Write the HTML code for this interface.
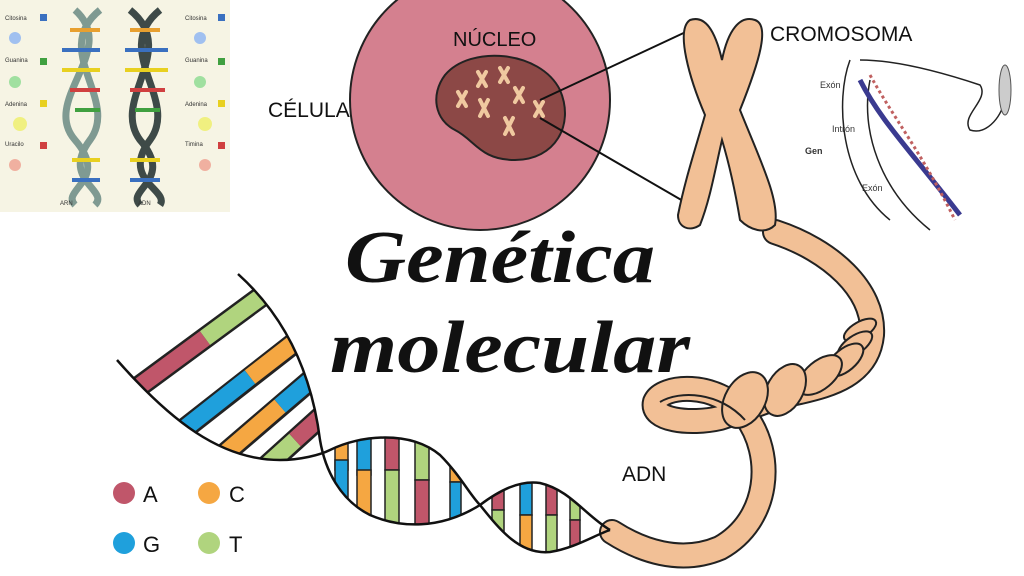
<!DOCTYPE html>
<html><head><meta charset="utf-8"><style>
html,body{margin:0;padding:0;background:#fff;width:1024px;height:576px;overflow:hidden}
svg{display:block}
text{font-family:"Liberation Sans",sans-serif}
</style></head><body>
<svg width="1024" height="576" viewBox="0 0 1024 576" xmlns="http://www.w3.org/2000/svg">
<defs>
<clipPath id="l1"><path d="M118,362 L238,274 C300,330 315,400 320,440 C322,446 326,449 330,450 C320,455 300,460 280,460 C220,460 170,420 118,362 Z"/></clipPath>
<clipPath id="l2"><path d="M330,450 C360,435 410,430 440,455 C460,475 470,495 480,505 C440,530 400,528 370,515 C340,500 325,470 330,450 Z"/></clipPath>
<clipPath id="l3"><path d="M480,505 C500,490 520,480 540,483 C570,490 585,515 610,530 C595,535 575,548 550,552 C520,555 500,530 480,505 Z"/></clipPath>
</defs>
<!-- top-left panel -->
<rect x="0" y="0" width="230" height="212" fill="#f6f4e4"/>
<g stroke-width="7" fill="none">
<path d="M75 10 C120 50 40 100 75 140 C110 180 60 190 75 205" stroke="#7f9a92"/>
<path d="M100 10 C50 50 120 100 90 140 C60 180 110 190 95 205" stroke="#7f9a92"/>
<path d="M130 10 C180 50 110 100 140 140 C175 180 125 190 140 205" stroke="#3e4a48"/>
<path d="M160 10 C110 50 180 100 150 140 C120 180 170 190 160 205" stroke="#3e4a48"/>
</g>
<g stroke-width="4">
<line x1="70" y1="30" x2="100" y2="30" stroke="#e8a030"/><line x1="62" y1="50" x2="100" y2="50" stroke="#3a70c0"/>
<line x1="62" y1="70" x2="100" y2="70" stroke="#e8d020"/><line x1="70" y1="90" x2="100" y2="90" stroke="#d04040"/>
<line x1="75" y1="110" x2="100" y2="110" stroke="#40a040"/><line x1="72" y1="160" x2="100" y2="160" stroke="#e8d020"/>
<line x1="72" y1="180" x2="100" y2="180" stroke="#3a70c0"/>
<line x1="130" y1="30" x2="160" y2="30" stroke="#e8a030"/><line x1="125" y1="50" x2="168" y2="50" stroke="#3a70c0"/>
<line x1="125" y1="70" x2="168" y2="70" stroke="#e8d020"/><line x1="130" y1="90" x2="165" y2="90" stroke="#d04040"/>
<line x1="135" y1="110" x2="160" y2="110" stroke="#40a040"/><line x1="130" y1="160" x2="160" y2="160" stroke="#e8d020"/>
<line x1="130" y1="180" x2="160" y2="180" stroke="#3a70c0"/>
</g>
<g font-size="6" fill="#333"><text x="5" y="20">Citosina</text><text x="5" y="62">Guanina</text><text x="5" y="106">Adenina</text><text x="5" y="146">Uracilo</text>
<text x="185" y="20">Citosina</text><text x="185" y="62">Guanina</text><text x="185" y="106">Adenina</text><text x="185" y="146">Timina</text>
<text x="60" y="205">ARN</text><text x="138" y="205">ADN</text></g>
<g><rect x="40" y="14" width="7" height="7" fill="#3a70c0"/><rect x="40" y="58" width="7" height="7" fill="#40a040"/><rect x="40" y="100" width="7" height="7" fill="#e8d020"/><rect x="40" y="142" width="7" height="7" fill="#d04040"/>
<rect x="218" y="14" width="7" height="7" fill="#3a70c0"/><rect x="218" y="58" width="7" height="7" fill="#40a040"/><rect x="218" y="100" width="7" height="7" fill="#e8d020"/><rect x="218" y="142" width="7" height="7" fill="#d04040"/>
<circle cx="15" cy="38" r="6" fill="#a0c0f0"/><circle cx="15" cy="82" r="6" fill="#a0e0a0"/><circle cx="20" cy="124" r="7" fill="#f0f080"/><circle cx="15" cy="165" r="6" fill="#f0b0a0"/>
<circle cx="200" cy="38" r="6" fill="#a0c0f0"/><circle cx="200" cy="82" r="6" fill="#a0e0a0"/><circle cx="205" cy="124" r="7" fill="#f0f080"/><circle cx="205" cy="165" r="6" fill="#f0b0a0"/></g>

<!-- cell -->
<circle cx="480" cy="100" r="130" fill="#d4808f" stroke="#222" stroke-width="2"/>
<path d="M445 75 C470 45 540 50 560 90 C575 125 555 160 515 160 C480 160 475 140 455 130 C435 120 430 95 445 75 Z" fill="#8c4846" stroke="#222" stroke-width="2"/>
<g stroke="#f0c9a0" stroke-width="4" stroke-linecap="round">
<path d="M478 72 l8 14 M486 72 l-8 14"/><path d="M500 68 l8 14 M508 68 l-8 14"/><path d="M515 88 l8 14 M523 88 l-8 14"/>
<path d="M458 92 l8 14 M466 92 l-8 14"/><path d="M480 100 l8 16 M488 100 l-8 16"/><path d="M505 118 l8 16 M513 118 l-8 16"/><path d="M535 102 l8 14 M543 102 l-8 14"/>
</g>
<line x1="540" y1="100" x2="690" y2="30" stroke="#111" stroke-width="2"/>
<line x1="540" y1="118" x2="690" y2="205" stroke="#111" stroke-width="2"/>
<text x="453" y="46" font-size="20" fill="#111">NÚCLEO</text>
<text x="268" y="117" font-size="21" fill="#111">CÉLULA</text>
<text x="770" y="41" font-size="21" fill="#111">CROMOSOMA</text>
<text x="622" y="481" font-size="21" fill="#111">ADN</text>

<!-- coil -->
<g fill="none" stroke-linecap="round" stroke-linejoin="round">
<path d="M775,232 C830,250 875,290 872,335 C868,375 830,385 800,392 C770,398 745,410 720,418 C690,425 650,420 655,402 C662,385 715,380 745,415 C775,455 770,520 720,548 C680,565 640,550 612,532" stroke="#222" stroke-width="26"/>
<path d="M775,232 C830,250 875,290 872,335 C868,375 830,385 800,392 C770,398 745,410 720,418 C690,425 650,420 655,402 C662,385 715,380 745,415 C775,455 770,520 720,548 C680,565 640,550 612,532" stroke="#f2c096" stroke-width="22"/>
</g>
<g fill="#f2c096" stroke="#222" stroke-width="2">
<ellipse cx="860" cy="330" rx="18" ry="8" transform="rotate(-30 860 330)"/>
<ellipse cx="855" cy="345" rx="20" ry="9" transform="rotate(-35 855 345)"/>
<ellipse cx="845" cy="360" rx="22" ry="11" transform="rotate(-40 845 360)"/>
<ellipse cx="820" cy="375" rx="26" ry="14" transform="rotate(-40 820 375)"/>
<ellipse cx="785" cy="390" rx="28" ry="18" transform="rotate(-60 785 390)"/>
<ellipse cx="745" cy="400" rx="30" ry="20" transform="rotate(-60 745 400)"/>
</g>
<path d="M660,402 C680,390 720,392 745,420" fill="none" stroke="#222" stroke-width="2"/>
<!-- chromosome -->
<path d="M690 20 C705 15 715 30 722 60 C728 30 740 15 755 20 C770 25 760 60 740 110 C760 160 780 200 775 225 C765 235 750 230 740 220 C735 190 728 160 722 140 C715 170 710 200 700 225 C690 232 678 228 678 215 C685 180 695 150 705 115 C690 80 675 30 690 20 Z" fill="#f2c096" stroke="#222" stroke-width="2"/>

<!-- gene diagram -->
<g fill="none" stroke="#222" stroke-width="1.5">
<path d="M860 60 C900 60 950 75 980 85 C990 100 960 115 970 130 C985 135 1000 120 1005 100"/>
<path d="M850 60 C835 100 840 180 890 220"/><path d="M870 80 C860 130 880 190 930 230"/>
</g>
<path d="M860 80 C880 120 910 150 960 215" stroke="#3a3a90" stroke-width="5" fill="none"/>
<path d="M870 75 C895 120 920 150 955 220" stroke="#c06060" stroke-width="3" fill="none" stroke-dasharray="3 3"/>
<ellipse cx="1005" cy="90" rx="6" ry="25" fill="#ccc" stroke="#555"/>
<g font-size="9" fill="#333"><text x="820" y="88">Exón</text><text x="832" y="132">Intrón</text><text x="805" y="154" font-weight="bold">Gen</text><text x="862" y="191">Exón</text></g>

<!-- title -->
<text x="345" y="282" font-size="74" font-weight="bold" font-style="italic" textLength="310" lengthAdjust="spacingAndGlyphs" fill="#111" style="font-family:'Liberation Serif',serif">Genética</text>
<text x="330" y="372" font-size="74" font-weight="bold" font-style="italic" textLength="360" lengthAdjust="spacingAndGlyphs" fill="#111" style="font-family:'Liberation Serif',serif">molecular</text>

<!-- DNA helix lobes -->
<g clip-path="url(#l1)" stroke-linecap="butt">
<g stroke="#222" stroke-width="22">
<line x1="110" y1="408" x2="300" y2="268"/><line x1="160" y1="448" x2="330" y2="315"/><line x1="200" y1="475" x2="340" y2="355"/><line x1="240" y1="490" x2="345" y2="395"/>
</g>
<g stroke-width="17">
<line x1="110" y1="408" x2="205" y2="338" stroke="#c0566a"/><line x1="205" y1="338" x2="300" y2="268" stroke="#b0d47e"/>
<line x1="160" y1="448" x2="250" y2="377" stroke="#1fa0dc"/><line x1="250" y1="377" x2="330" y2="315" stroke="#f5a742"/>
<line x1="200" y1="475" x2="280" y2="406" stroke="#f5a742"/><line x1="280" y1="406" x2="340" y2="355" stroke="#1fa0dc"/>
<line x1="240" y1="490" x2="295" y2="440" stroke="#b0d47e"/><line x1="295" y1="440" x2="345" y2="395" stroke="#c0566a"/>
</g>
</g>
<g clip-path="url(#l2)" stroke="#222" stroke-width="1.5">
<rect x="335" y="420" width="13" height="50" fill="#f5a742"/><rect x="335" y="460" width="13" height="40" fill="#1fa0dc"/>
<rect x="357" y="420" width="14" height="55" fill="#1fa0dc"/><rect x="357" y="470" width="14" height="60" fill="#f5a742"/>
<rect x="385" y="420" width="14" height="50" fill="#c0566a"/><rect x="385" y="470" width="14" height="70" fill="#b0d47e"/>
<rect x="415" y="420" width="14" height="60" fill="#b0d47e"/><rect x="415" y="480" width="14" height="60" fill="#c0566a"/>
<rect x="450" y="420" width="11" height="62" fill="#f5a742"/><rect x="450" y="482" width="11" height="50" fill="#1fa0dc"/>
</g>
<g clip-path="url(#l3)" stroke="#222" stroke-width="1.5">
<rect x="492" y="470" width="12" height="40" fill="#c0566a"/><rect x="492" y="510" width="12" height="50" fill="#b0d47e"/>
<rect x="520" y="470" width="12" height="45" fill="#1fa0dc"/><rect x="520" y="515" width="12" height="50" fill="#f5a742"/>
<rect x="546" y="470" width="11" height="45" fill="#c0566a"/><rect x="546" y="515" width="11" height="50" fill="#b0d47e"/>
<rect x="570" y="470" width="10" height="50" fill="#b0d47e"/><rect x="570" y="520" width="10" height="50" fill="#c0566a"/>
</g>
<g fill="none" stroke="#111" stroke-width="2.5">
<path d="M238,274 C300,330 315,400 320,440 C325,470 340,500 370,515 C400,528 440,530 480,505 C500,490 520,480 540,483 C570,490 585,515 610,530"/>
<path d="M117,360 C170,420 220,460 280,460 C300,460 320,455 330,450 C360,435 410,430 440,455 C460,475 470,495 480,505 C500,530 520,555 550,552 C575,548 595,535 610,530"/>
</g>

<!-- legend -->
<circle cx="124" cy="493" r="11" fill="#c0566a"/><text x="143" y="502" font-size="22" fill="#111">A</text>
<circle cx="209" cy="493" r="11" fill="#f5a742"/><text x="229" y="502" font-size="22" fill="#111">C</text>
<circle cx="124" cy="543" r="11" fill="#1fa0dc"/><text x="143" y="552" font-size="22" fill="#111">G</text>
<circle cx="209" cy="543" r="11" fill="#b0d47e"/><text x="229" y="552" font-size="22" fill="#111">T</text>
</svg>
</body></html>
